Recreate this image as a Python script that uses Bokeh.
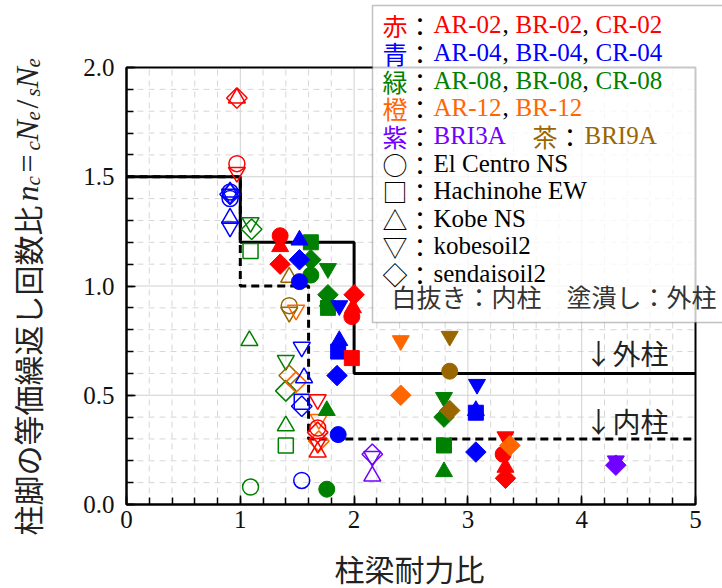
import math
from bokeh.plotting import figure
from bokeh.models import (Range1d, SingleIntervalTicker, PrintfTickFormatter,
                          Label, BoxAnnotation, ColumnDataSource, LinearAxis)
from bokeh.embed import file_html
from bokeh.resources import INLINE

# ---------------- data ----------------
# open markers = inner columns (内柱), filled = outer columns (外柱)
red_in_x = [0.97, 0.97, 0.97, 0.97, 1.68, 1.68, 1.68, 1.68, 1.68]
red_in_y = [1.86, 1.86, 1.56, 1.52, 0.48, 0.35, 0.33, 0.28, 0.24]
red_in_s = ["diamond", "triangle", "circle", "inverted_triangle", "inverted_triangle",
            "circle", "diamond", "inverted_triangle", "triangle"]

blue_in_x = [0.91, 0.91, 0.91, 0.91, 0.91, 0.91, 0.91, 1.54, 1.56, 1.54, 1.54, 1.54]
blue_in_y = [1.43, 1.40, 1.42, 1.43, 1.42, 1.31, 1.27, 0.72, 0.58, 0.47, 0.45, 0.11]
blue_in_s = ["circle", "circle", "diamond", "triangle", "inverted_triangle", "triangle",
             "inverted_triangle", "inverted_triangle", "triangle", "square", "diamond", "circle"]

green_in_x = [1.09, 1.10, 1.09, 1.08, 1.09, 1.40, 1.40, 1.40, 1.40]
green_in_y = [1.29, 1.26, 1.16, 0.75, 0.08, 0.66, 0.52, 0.36, 0.27]
green_in_s = ["inverted_triangle", "diamond", "square", "triangle", "circle",
              "inverted_triangle", "diamond", "triangle", "square"]

orange_in_x = [1.49, 1.49, 1.69, 1.69]
orange_in_y = [0.89, 0.56, 0.39, 0.29]
orange_in_s = ["inverted_triangle", "diamond", "inverted_triangle", "diamond"]

brown_in_x = [1.43, 1.43, 1.43, 1.43]
brown_in_y = [1.04, 0.91, 0.88, 0.59]
brown_in_s = ["triangle", "circle", "inverted_triangle", "diamond"]

purple_in_x = [2.16, 2.16, 2.16]
purple_in_y = [0.23, 0.22, 0.13]
purple_in_s = ["diamond", "inverted_triangle", "triangle"]

red_out_x = [1.35, 1.35, 1.35, 2.00, 1.99, 1.98, 1.98, 3.33, 3.31, 3.33, 3.33]
red_out_y = [1.23, 1.18, 1.10, 0.96, 0.90, 0.86, 0.67, 0.31, 0.23, 0.17, 0.12]
red_out_s = ["circle", "triangle", "diamond", "diamond", "triangle", "circle", "square",
             "inverted_triangle", "circle", "triangle", "diamond"]

blue_out_x = [1.52, 1.52, 1.52, 1.87, 1.87, 1.86, 1.85, 1.86, 3.08, 3.07, 3.07, 3.07]
blue_out_y = [1.21, 1.12, 1.02, 0.91, 0.75, 0.70, 0.59, 0.32, 0.55, 0.43, 0.42, 0.24]
blue_out_s = ["triangle", "diamond", "circle", "inverted_triangle", "triangle", "square",
              "diamond", "circle", "inverted_triangle", "triangle", "square", "diamond"]

green_out_x = [1.62, 1.62, 1.62, 1.77, 1.77, 1.77, 1.77, 1.76, 1.76, 2.79, 2.79, 2.79, 2.79]
green_out_y = [1.20, 1.12, 1.05, 1.08, 0.96, 0.93, 0.90, 0.43, 0.07, 0.49, 0.40, 0.27, 0.15]
green_out_s = ["square", "diamond", "circle", "inverted_triangle", "diamond", "triangle",
               "square", "triangle", "circle", "inverted_triangle", "diamond", "square", "triangle"]

orange_out_x = [2.41, 2.41, 3.37]
orange_out_y = [0.75, 0.50, 0.27]
orange_out_s = ["inverted_triangle", "diamond", "diamond"]

brown_out_x = [2.84, 2.84, 2.84]
brown_out_y = [0.77, 0.61, 0.43]
brown_out_s = ["inverted_triangle", "circle", "diamond"]

purple_out_x = [4.30, 4.30]
purple_out_y = [0.20, 0.18]
purple_out_s = ["inverted_triangle", "diamond"]

# design limit step lines
outer_x = [0.0, 1.0, 2.0, 5.0]
outer_y = [1.5, 1.2, 0.6, 0.6]
inner_x = [0.0, 1.0, 1.6, 5.0]
inner_y = [1.5, 1.0, 0.3, 0.3]

# legend texts
red_names = ["AR-02", "BR-02", "CR-02"]
blue_names = ["AR-04", "BR-04", "CR-04"]
green_names = ["AR-08", "BR-08", "CR-08"]
orange_names = ["AR-12", "BR-12"]
wave_symbols = ["○", "□", "△", "▽", "◇"]
wave_names = ["El Centro NS", "Hachinohe EW", "Kobe NS", "kobesoil2", "sendaisoil2"]

RED, BLUE, GREEN = "#ff0000", "#0000ff", "#008000"
ORANGE, PURPLE, BROWN = "#ff6600", "#7000ff", "#996600"

# axis extents
XMIN, XMAX, YMIN, YMAX = 0.0, 5.0, 0.0, 2.0

# ---------------- figure ----------------
# The frame covers the whole canvas; the plot box sits at these pixels.
W, H = 722, 588
FL, FR, FT, FB = 126, 695, 67, 504
kx = (XMAX - XMIN) / (FR - FL)
ky = (YMAX - YMIN) / (FB - FT)
x_range = Range1d(XMIN - FL * kx, XMAX + (W - FR) * kx)
y_range = Range1d(YMIN - (H - FB) * ky, YMAX + FT * ky)

SERIF = "Liberation Serif"
CJK = "Noto Sans CJK JP"
MIX = "Liberation Serif, Noto Sans CJK JP"

p = figure(width=W, height=H, x_range=x_range, y_range=y_range,
           x_axis_type=None, y_axis_type=None, min_border=0,
           output_backend="svg", toolbar_location=None)
p.background_fill_color = "white"
p.border_fill_color = "white"
p.outline_line_color = None

xt = SingleIntervalTicker(interval=1, num_minor_ticks=5)
yt = SingleIntervalTicker(interval=0.5, num_minor_ticks=5)

# grid (inside the box only)
x_major_grid = [1.0, 2.0, 3.0, 4.0]
x_minor_grid = [round(0.2 * i, 2) for i in range(1, 25) if i % 5]
y_major_grid = [0.5, 1.0, 1.5]
y_minor_grid = [round(0.1 * i, 2) for i in range(1, 20) if i % 5]
p.segment(x0=x_minor_grid, y0=YMIN, x1=x_minor_grid, y1=YMAX,
          line_color="#d6d6d6", line_width=1, line_dash="6 5")
p.segment(x0=XMIN, y0=y_minor_grid, x1=XMAX, y1=y_minor_grid,
          line_color="#d6d6d6", line_width=1, line_dash="6 5")
p.segment(x0=x_major_grid, y0=YMIN, x1=x_major_grid, y1=YMAX,
          line_color="#d0d0d0", line_width=1)
p.segment(x0=XMIN, y0=y_major_grid, x1=XMAX, y1=y_major_grid,
          line_color="#d0d0d0", line_width=1)

# step lines
p.step(outer_x, outer_y, mode="after", line_color="black", line_width=3)
p.step(inner_x, inner_y, mode="after", line_color="black", line_width=3, line_dash="8 5")

MK = {"circle": ("circle", 16, 0.0), "square": ("square", 15, 0.0),
      "triangle": ("triangle", 17, 0.0), "inverted_triangle": ("inverted_triangle", 17, 0.0),
      "diamond": ("square", 14.5, math.pi / 4)}


def add_points(xs, ys, shapes, color, filled):
    src = ColumnDataSource(dict(
        x=xs, y=ys,
        marker=[MK[s][0] for s in shapes],
        size=[MK[s][1] for s in shapes],
        angle=[MK[s][2] for s in shapes]))
    if filled:
        p.scatter(x="x", y="y", marker="marker", size="size", angle="angle", source=src,
                  fill_color=color, line_color=color, line_width=1)
    else:
        p.scatter(x="x", y="y", marker="marker", size="size", angle="angle", source=src,
                  fill_color=None, line_color=color, line_width=1.5)


add_points(green_in_x, green_in_y, green_in_s, GREEN, False)
add_points(brown_in_x, brown_in_y, brown_in_s, BROWN, False)
add_points(orange_in_x, orange_in_y, orange_in_s, ORANGE, False)
add_points(blue_in_x, blue_in_y, blue_in_s, BLUE, False)
add_points(red_in_x, red_in_y, red_in_s, RED, False)
add_points(purple_in_x, purple_in_y, purple_in_s, PURPLE, False)
add_points(green_out_x, green_out_y, green_out_s, GREEN, True)
add_points(blue_out_x, blue_out_y, blue_out_s, BLUE, True)
add_points(red_out_x, red_out_y, red_out_s, RED, True)
add_points(orange_out_x, orange_out_y, orange_out_s, ORANGE, True)
add_points(brown_out_x, brown_out_y, brown_out_s, BROWN, True)
add_points(purple_out_x, purple_out_y, purple_out_s, PURPLE, True)

# plot box
p.quad(left=XMIN, right=XMAX, bottom=YMIN, top=YMAX, fill_color=None,
       line_color="black", line_width=2)

# axes, pinned at the data origin
xaxis = LinearAxis(fixed_location=YMIN, bounds=(XMIN, XMAX), ticker=xt)
yaxis = LinearAxis(fixed_location=XMIN, bounds=(YMIN, YMAX), ticker=yt,
                   formatter=PrintfTickFormatter(format="%.1f"))
for ax in (xaxis, yaxis):
    ax.axis_line_width = 2
    ax.axis_line_color = "black"
    ax.major_tick_in = 9
    ax.major_tick_out = 0
    ax.minor_tick_in = 7
    ax.minor_tick_out = 0
    ax.major_tick_line_width = 1.5
    ax.minor_tick_line_width = 1.5
    ax.major_tick_line_color = "black"
    ax.minor_tick_line_color = "black"
    ax.major_label_text_font = SERIF
    ax.major_label_text_font_size = "25px"
    ax.major_label_text_color = "#111111"
xaxis.major_label_standoff = 6
yaxis.major_label_standoff = 12
p.add_layout(xaxis, "below")
p.add_layout(yaxis, "left")


def lab(text, px, py, color="black", size=25, font=MIX, align="left",
        baseline="alphabetic", angle=0.0, style="normal"):
    p.add_layout(Label(x=px, y=H - py, x_units="screen", y_units="screen",
                       text=text, text_color=color, text_font=font,
                       text_font_size=f"{size}px", text_align=align,
                       text_baseline=baseline, angle=angle, text_font_style=style))


# "↓外柱" / "↓内柱"
lab("↓外柱", 584, 352, color="#222222", size=28, font=CJK)
lab("↓内柱", 584, 420, color="#222222", size=28, font=CJK)

# legend box
p.add_layout(BoxAnnotation(left=372, right=760, top=H - 5, bottom=H - 322,
                           left_units="screen", right_units="screen",
                           top_units="screen", bottom_units="screen",
                           fill_color="white", fill_alpha=0.78,
                           line_color="#333333", line_width=1.5))

rows_y = [24, 52, 80, 107, 135, 163, 190, 218, 245, 273]
XC, XCOL, XN1, XK1, XN2, XK2, XN3 = 382, 407, 433, 502, 515, 582, 595
for i, (ch, names, col) in enumerate([("赤", red_names, RED), ("青", blue_names, BLUE),
                                      ("緑", green_names, GREEN), ("橙", orange_names, ORANGE)]):
    yy = rows_y[i]
    lab(ch, XC, yy, col, font=CJK)
    lab("：", XCOL, yy, "black", font=CJK)
    xs = [XN1, XN2, XN3]
    ks = [XK1, XK2]
    for j, nm in enumerate(names):
        lab(nm, xs[j], yy, col, font=SERIF)
        if j < len(names) - 1:
            lab(",", ks[j], yy, "black", font=SERIF)
yy = rows_y[4]
lab("紫", XC, yy, PURPLE, font=CJK)
lab("：", XCOL, yy, "black", font=CJK)
lab("BRI3A", XN1, yy, PURPLE, font=SERIF)
lab("茶", 532, yy, BROWN, font=CJK)
lab("：", 557, yy, "black", font=CJK)
lab("BRI9A", 584, yy, BROWN, font=SERIF)
for i, (sym, nm) in enumerate(zip(wave_symbols, wave_names)):
    yy = rows_y[5 + i]
    lab(sym, XC, yy, "black", font=CJK)
    lab("：", XCOL, yy, "black", font=CJK)
    lab(nm, XN1, yy, "black", font=SERIF)
lab("白抜き：内柱　塗潰し：外柱", 391, 295, "#333333", font=CJK)

# x-axis label
lab("柱梁耐力比", 409, 567, "#222222", size=30, font=CJK, align="center")

# y-axis label (rotated, built from pieces)
A = math.pi / 2
BX, SUBX = 26, 32
cur = 535
pieces = [("柱脚の等価繰返し回数比", CJK, 30, "normal", BX, 30 * 11 + 4),
          ("n", SERIF, 32, "italic", BX, 16),
          ("c", SERIF, 21, "italic", SUBX, 9 + 4),
          ("=", SERIF, 32, "normal", BX, 18 + 4),
          ("c", SERIF, 21, "italic", SUBX, 9),
          ("N", SERIF, 32, "italic", BX, 21),
          ("e", SERIF, 21, "italic", SUBX, 9 + 3),
          ("/", SERIF, 32, "normal", BX, 9 + 3),
          ("s", SERIF, 21, "italic", SUBX, 8),
          ("N", SERIF, 32, "italic", BX, 21),
          ("e", SERIF, 21, "italic", SUBX, 9)]
for t, f, s, st, bx, adv in pieces:
    lab(t, bx, cur, "#222222", size=s, font=f, angle=A, style=st)
    cur -= adv

open("out.html", "w").write(file_html(p, INLINE))
